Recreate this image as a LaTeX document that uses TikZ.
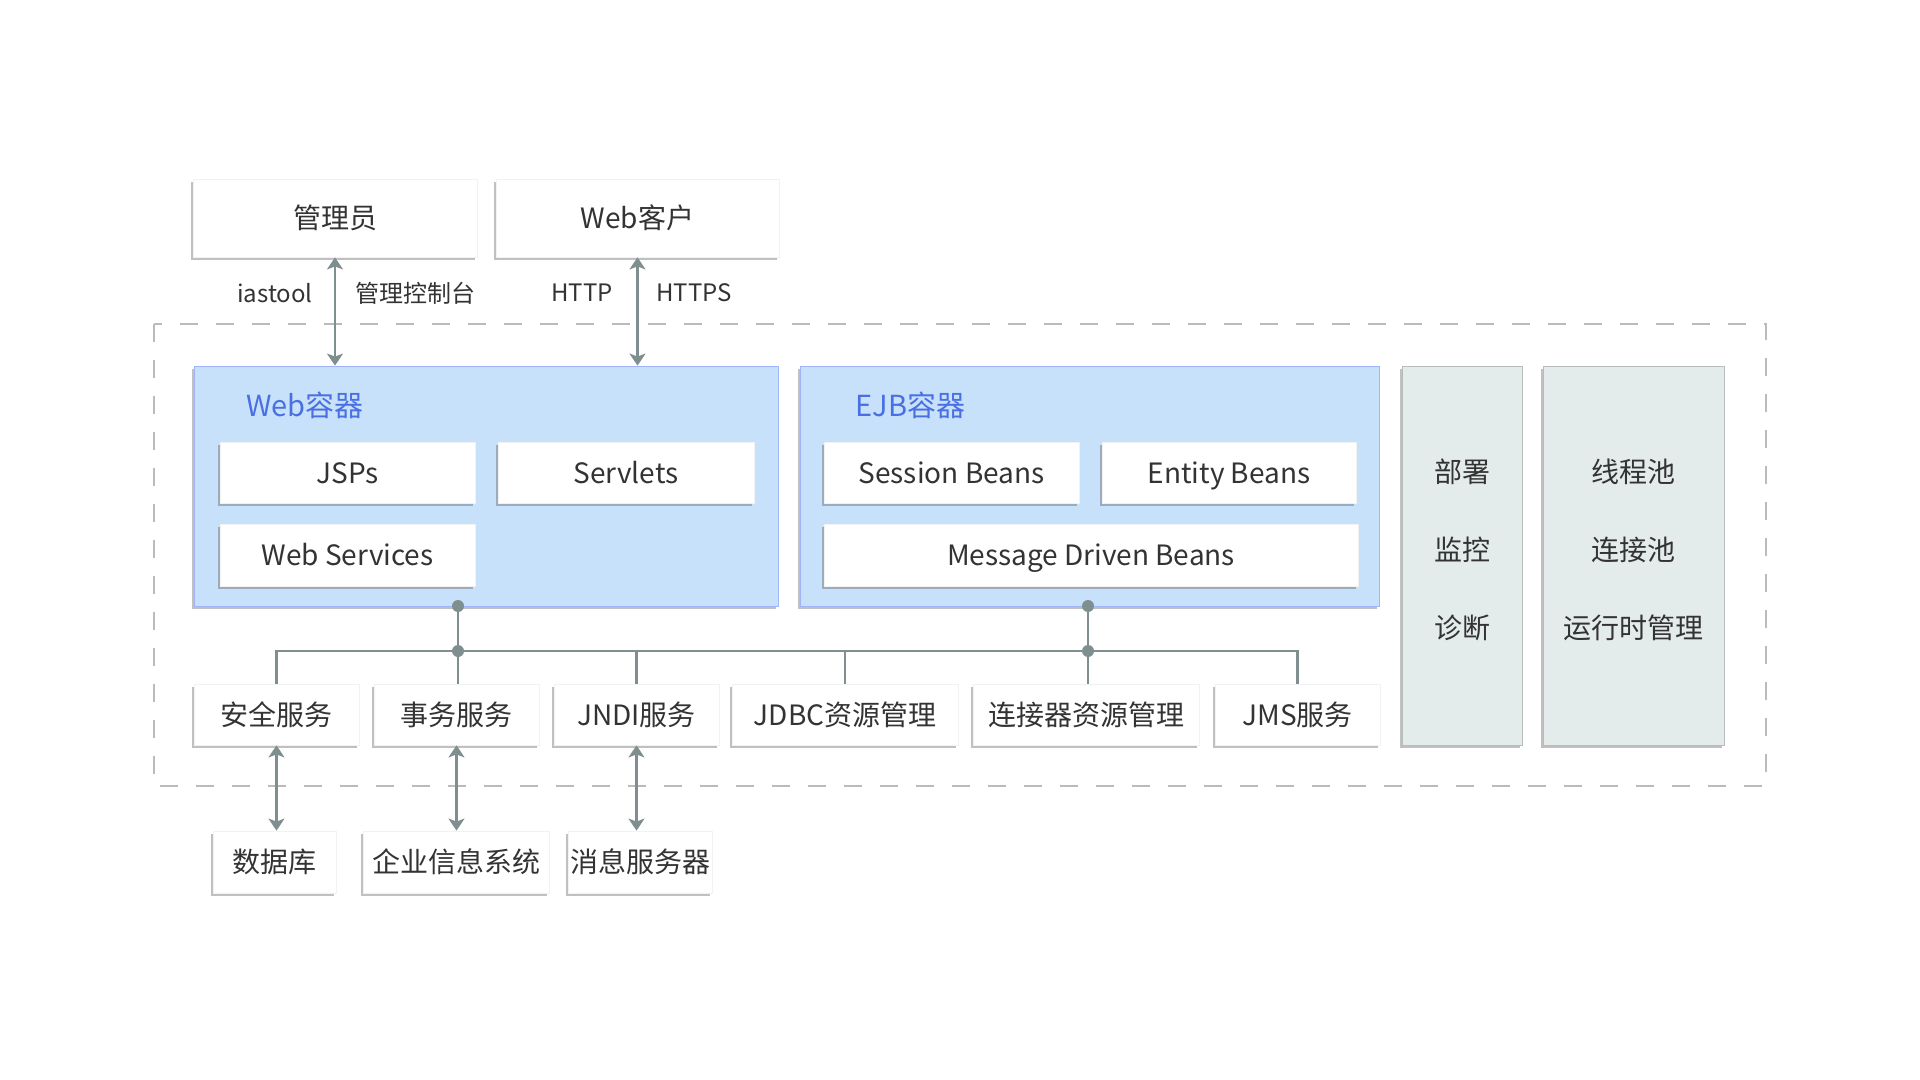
\documentclass[tikz,border=0pt]{standalone}
\usepackage{fontspec}
\setmainfont{Noto Sans CJK SC}
\usetikzlibrary{positioning,shadows,arrows.meta}

% color of the text in all boxes
\definecolor{colText}{HTML}{333333}
% color of the container titles
\definecolor{colTitle}{HTML}{4A6FE3}
% color of the Web and EJB containers
\definecolor{colCont}{HTML}{C8E1FA}
% color of the side columns
\definecolor{colSide}{HTML}{E4ECEB}
% color of connectors
\definecolor{colLink}{HTML}{7F8F8F}
% color of the dashed server frame
\definecolor{colFrame}{HTML}{BBBBBB}

\tikzset{
  shade/.style={drop shadow={shadow xshift=-0.9pt,shadow yshift=-1.5pt,opacity=0.35,fill=black!70}},
  box/.style={shade,fill=white,draw=black!5,line width=0.4pt,inner sep=0pt,text=colText,
    text height=12pt,text depth=1.4pt,font=\fontsize{14}{16}\selectfont},
  cont/.style={shade,fill=colCont,draw=colCont!80!blue,line width=0.4pt,inner sep=0pt},
  side/.style={shade,fill=colSide,draw=colSide!80!black,line width=0.4pt,inner sep=0pt},
  title/.style={text=colTitle,inner sep=0pt,anchor=west,font=\fontsize{14.5}{16}\selectfont},
  sidetext/.style={text=colText,inner sep=0pt,font=\fontsize{14}{16}\selectfont},
  proto/.style={text=colText,inner sep=0pt,font=\fontsize{12}{14}\selectfont},
  link/.style={colLink,line width=1.2pt},
  both/.style={link,{Stealth[length=6pt,width=8pt,inset=1.5pt]}-{Stealth[length=6pt,width=8pt,inset=1.5pt]}},
  frame/.style={colFrame,line width=1pt,dash pattern=on 9pt off 9pt},
}

\begin{document}
\begin{tikzpicture}[x=0.5pt,y=-0.5pt]
  \useasboundingbox[fill=white] (0,0) rectangle (1920,1080);

  % dashed frame of the application server
  \draw[frame] (154,324) rectangle (1766,786);

  % clients
  \node[box,minimum width=142pt,minimum height=39pt] (admin) at (335,218) {管理员};
  \node[box,minimum width=141.5pt,minimum height=39pt] (client) at (637.5,218) {Web客户};

  % containers
  \node[cont,minimum width=292pt,minimum height=120pt] (webc) at (486,486) {};
  \node[cont,minimum width=289.5pt,minimum height=120pt] (ejbc) at (1089.5,486) {};
  \node[title] (webt) at (246,405) {Web容器};
  \node[title] (ejbt) at (855,405) {EJB容器};

  % components of the Web container
  \node[box,minimum width=127.5pt,minimum height=30.5pt] (jsp) at (347.5,472.5) {JSPs};
  \node[box,minimum width=128pt,minimum height=30.5pt] (servlet) at (626,472.5) {Servlets};
  \node[box,minimum width=127.5pt,minimum height=31pt] (ws) at (347.5,555) {Web Services};

  % components of the EJB container
  \node[box,minimum width=127.5pt,minimum height=30.5pt] (sb) at (951.5,472.5) {Session Beans};
  \node[box,minimum width=127pt,minimum height=30.5pt] (eb) at (1229,472.5) {Entity Beans};
  \node[box,minimum width=267pt,minimum height=31pt] (mdb) at (1091,555) {Message Driven Beans};

  % side columns
  \node[side,minimum width=60pt,minimum height=189.5pt] (deploy) at (1462,555.5) {};
  \node[side,minimum width=90.5pt,minimum height=189.5pt] (pool) at (1633.5,555.5) {};
  \node[sidetext] at (1462,472) {部署};
  \node[sidetext] at (1462,550) {监控};
  \node[sidetext] at (1462,628) {诊断};
  \node[sidetext] at (1633.5,472) {线程池};
  \node[sidetext] at (1633.5,550) {连接池};
  \node[sidetext] at (1633.5,628) {运行时管理};

  % services
  \node[box,minimum width=82.5pt,minimum height=30.5pt] (sec) at (276.5,714.5) {安全服务};
  \node[box,minimum width=82.5pt,minimum height=30.5pt] (tx) at (456.5,714.5) {事务服务};
  \node[box,minimum width=82.5pt,minimum height=30.5pt] (jndi) at (636.5,714.5) {JNDI服务};
  \node[box,minimum width=113pt,minimum height=30.5pt] (jdbc) at (845,714.5) {JDBC资源管理};
  \node[box,minimum width=113pt,minimum height=30.5pt] (conn) at (1086,714.5) {连接器资源管理};
  \node[box,minimum width=82.5pt,minimum height=30.5pt] (jms) at (1297.5,714.5) {JMS服务};

  % back ends
  \node[box,minimum width=61.5pt,minimum height=31pt] (db) at (274.5,862) {数据库};
  \node[box,minimum width=93pt,minimum height=31pt] (eis) at (456,862) {企业信息系统};
  \node[box,minimum width=72pt,minimum height=31pt] (msg) at (640,862) {消息服务器};

  % client access
  \draw[both] (admin.south) -- (admin.south |- webc.north);
  \draw[both] (client.south) -- (client.south |- webc.north);
  \coordinate (m1) at (336,293);
  \coordinate (m2) at (637,293);
  \node[proto,left=11.5pt of m1] {iastool};
  \node[proto,right=9.5pt of m1] {管理控制台};
  \node[proto,left=12pt of m2] {HTTP};
  \node[proto,right=9.5pt of m2] {HTTPS};

  % service bus
  \coordinate (wdot) at (458,606);
  \coordinate (edot) at (1088,606);
  \coordinate (bus) at (0,651);
  \draw[link] (sec.north) |- (bus -| jms.north) -- (jms.north);
  \draw[link] (wdot) -- (wdot |- tx.north);
  \draw[link] (edot) -- (edot |- conn.north);
  \draw[link] (jndi.north) -- (jndi.north |- bus);
  \draw[link] (jdbc.north) -- (jdbc.north |- bus);
  \fill[colLink] (wdot) circle (3pt) (wdot |- bus) circle (3pt);
  \fill[colLink] (edot) circle (3pt) (edot |- bus) circle (3pt);

  % back end access
  \draw[both] (sec.south) -- (sec.south |- db.north);
  \draw[both] (tx.south) -- (tx.south |- eis.north);
  \draw[both] (jndi.south) -- (jndi.south |- msg.north);

\end{tikzpicture}
\end{document}
